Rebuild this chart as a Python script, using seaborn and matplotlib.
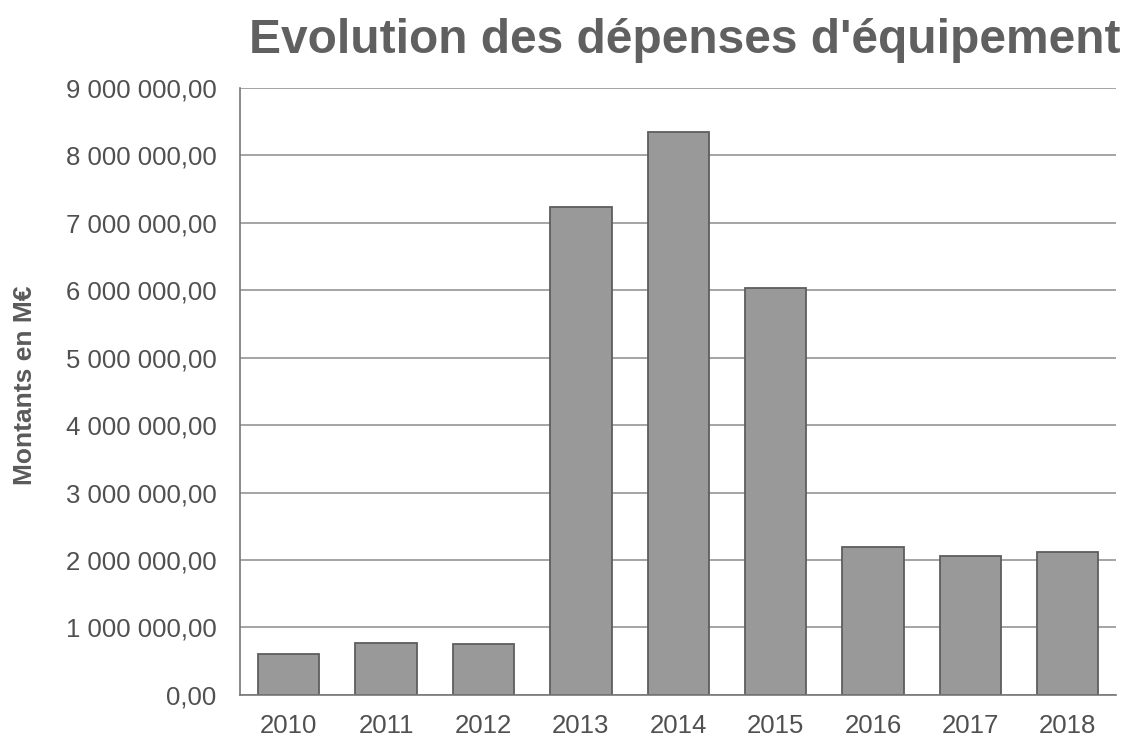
import matplotlib
matplotlib.use("Agg")
import matplotlib.pyplot as plt
import seaborn as sns
import pandas as pd
from matplotlib.ticker import FuncFormatter, MultipleLocator

years = ["2010", "2011", "2012", "2013", "2014", "2015", "2016", "2017", "2018"]
amounts = [610000, 770000, 760000, 7240000, 8350000, 6040000, 2200000, 2060000, 2120000]

df = pd.DataFrame({"annee": years, "montant": amounts})

sns.set_theme(style="white")
plt.rcParams["font.family"] = ["Liberation Sans", "DejaVu Sans"]

fig = plt.figure(figsize=(11.22, 7.4), dpi=100)
ax = fig.add_axes([0.214, 0.061, 0.781, 0.82])

sns.barplot(data=df, x="annee", y="montant", color="#999999",
            edgecolor="#5e5e5e", linewidth=1.3, width=0.63, saturation=1, ax=ax)

ax.set_ylim(0, 9000000)
ax.yaxis.set_major_locator(MultipleLocator(1000000))


def fr_format(v, pos):
    s = f"{v:,.2f}"
    return s.replace(",", " ").replace(".", ",")


ax.yaxis.set_major_formatter(FuncFormatter(fr_format))
ax.grid(axis="y", color="#8c8c8c", linewidth=1.1)
ax.set_axisbelow(True)
for side in ["top", "right"]:
    ax.spines[side].set_visible(False)
for side in ["left", "bottom"]:
    ax.spines[side].set_color("#777777")
    ax.spines[side].set_linewidth(1.2)

ax.tick_params(axis="y", labelsize=18.5, labelcolor="#505050", pad=17, length=0)
ax.tick_params(axis="x", labelsize=18.5, labelcolor="#505050", pad=14, length=0)
ax.set_xlabel("")
ax.set_ylabel("Montants en M€", fontsize=19, fontweight="bold", color="#5a5a5a")
ax.yaxis.set_label_coords(-0.232, 0.51)

fig.text(0.61, 0.928, "Evolution des dépenses d'équipement", ha="center", va="baseline",
         fontsize=34.5, fontweight="bold", color="#606060")

fig.savefig("out.png", dpi=100)
